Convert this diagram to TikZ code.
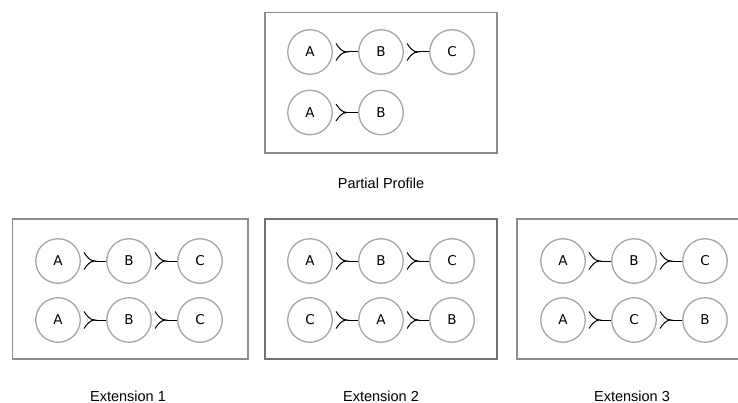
\documentclass[tikz,border=0pt]{standalone}
\usepackage{fontspec}
\setmainfont{Liberation Sans}
\newfontfamily\letterfont{DejaVu Sans}
\usetikzlibrary{calc}
\tikzset{
  box/.style={draw=black!45, line width=1.3pt},
  item/.style={circle, draw=black!35, line width=1.3pt, minimum size=44.5pt, inner sep=0pt, font=\letterfont\fontsize{13.5}{13.5}\selectfont},
  pref/.style={draw=black, line width=1pt},
  caption/.style={font=\fontsize{14.5}{15}\selectfont, inner sep=0pt}
}
\newcommand\prefcon[2]{%
  \path (#1.east) -- (#2.west) coordinate[pos=0.56] (m-#1);
  \draw[pref] (m-#1) -- (#2.west);
  \draw[pref] ([shift={(-11,-8.5)}]m-#1) .. controls +(3,4.5) and +(-5,0) .. (m-#1)
              .. controls +(-5,0) and +(3,-4.5) .. ([shift={(-11,8.5)}]m-#1);
}
\newcommand\prefrow[7]{% prefix, x0, y, L1, L2, L3 (L3 may be empty), flag
  \node[item] (#1a) at (#2,#3) {#4};
  \node[item] (#1b) at (#2+71,#3) {#5};
  \prefcon{#1a}{#1b}
  \ifx&#6&\else
    \node[item] (#1c) at (#2+142,#3) {#6};
    \prefcon{#1b}{#1c}
  \fi
}
\begin{document}
\begin{tikzpicture}[x=1pt,y=-1pt]
\useasboundingbox (0,0) rectangle (738,403);
% top box
\draw[box] (265,12.5) rectangle (497,153) coordinate (pp);
\prefrow{pa}{310}{52}{A}{B}{C}{}
\prefrow{pb}{310}{112.5}{A}{B}{}{}
\node[caption] (lp) at (381,183) {Partial Profile};
% extension boxes
\draw[box] (12.5,219) rectangle (248,359);
\draw[box, draw=black!55] (265,219) rectangle (497,359);
\draw[box] (517,219) rectangle (760,359);
\prefrow{ea}{58}{261}{A}{B}{C}{}
\prefrow{eb}{58}{320}{A}{B}{C}{}
\prefrow{fa}{310}{261}{A}{B}{C}{}
\prefrow{fb}{310}{320}{C}{A}{B}{}
\prefrow{ga}{563}{261}{A}{B}{C}{}
\prefrow{gb}{563}{320}{A}{C}{B}{}
\node[caption] (l1) at (128,396) {Extension 1};
\node[caption] (l2) at (381,396) {Extension 2};
\node[caption] (l3) at (632,396) {Extension 3};
\end{tikzpicture}
\end{document}
